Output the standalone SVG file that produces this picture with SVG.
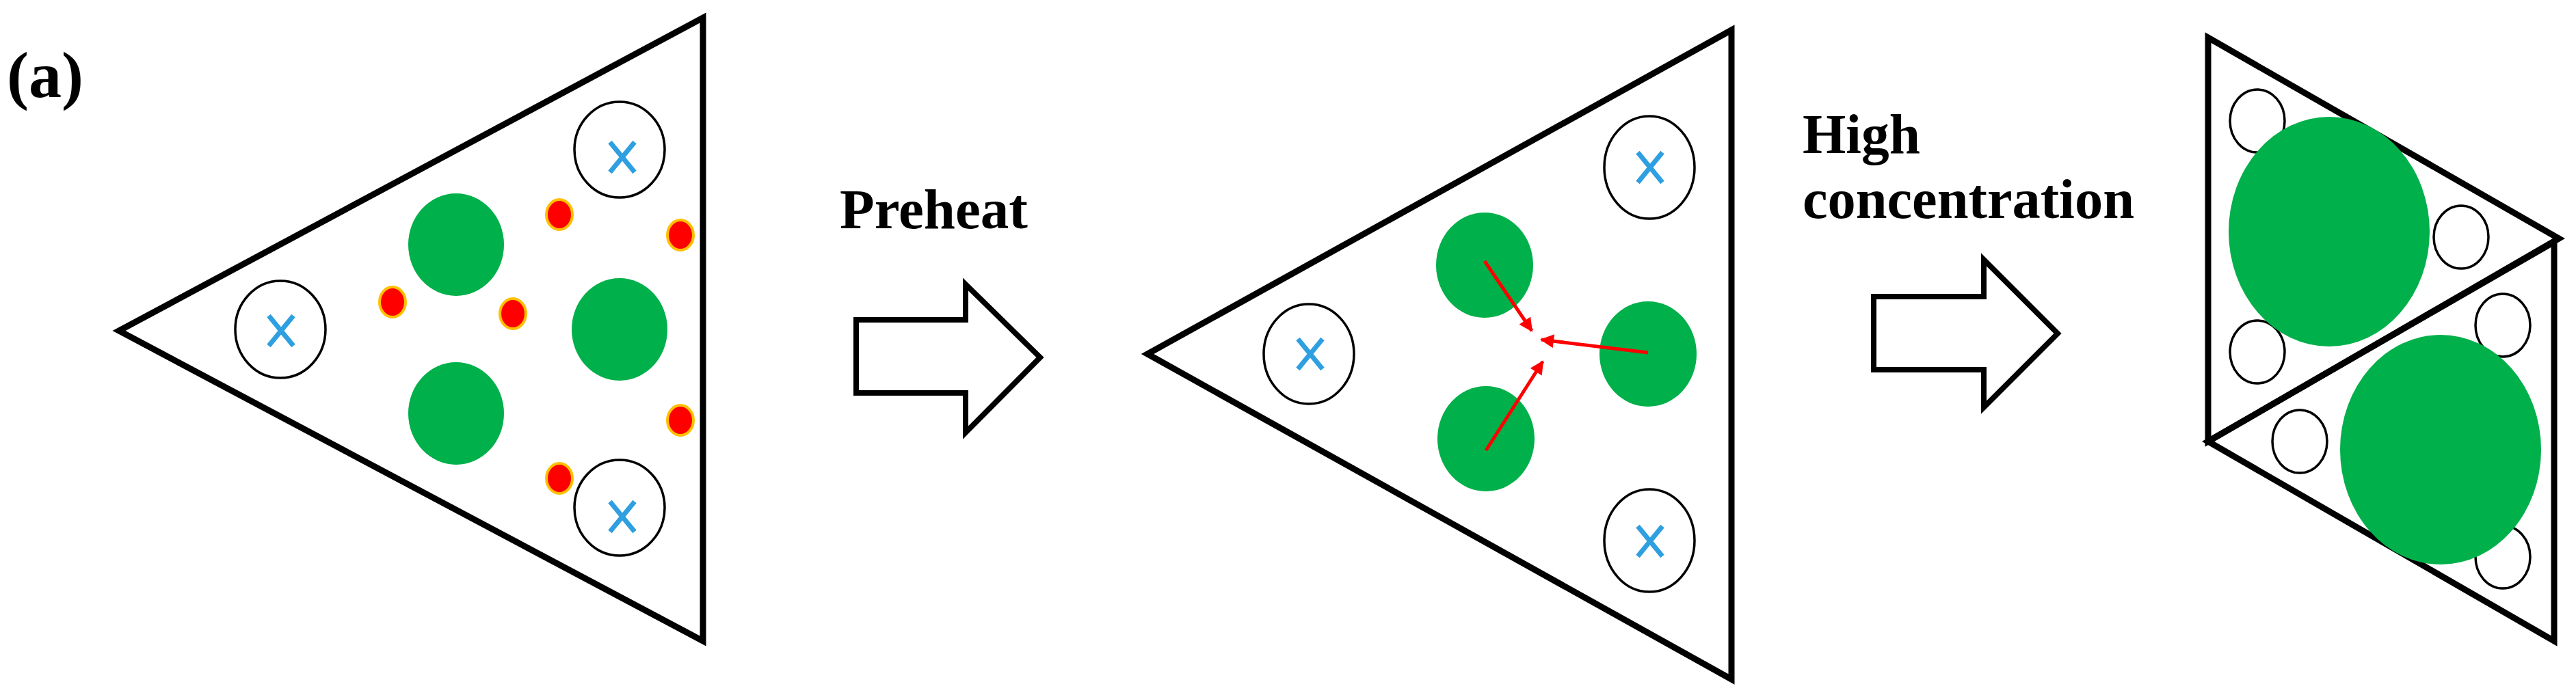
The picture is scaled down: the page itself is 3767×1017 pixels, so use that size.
<svg xmlns="http://www.w3.org/2000/svg" width="3767" height="1017" viewBox="0 0 3767 1017">
<defs>
<style>
.tri{fill:none;stroke:#000;stroke-width:9;stroke-linejoin:miter}
.ring{fill:#fff;stroke:#000;stroke-width:3.5}
.g{fill:#00b04a}
.red{fill:#ff0000;stroke:#ffc000;stroke-width:4}
.x{stroke:#2e9fe0;stroke-width:7;fill:none}
.blk{fill:#fff;stroke:#000;stroke-width:8}
.ra{stroke:#ff0000;stroke-width:5;fill:none;marker-end:url(#ah)}
text{font-family:"Liberation Serif","Times New Roman",serif;font-weight:bold;fill:#000}
</style>
<marker id="ah" viewBox="0 0 10 10" refX="9" refY="5" markerWidth="5" markerHeight="4" orient="auto" markerUnits="strokeWidth"><path d="M0,0L10,5L0,10z" fill="#ff0000"/></marker>
<g id="xm"><path class="x" d="M-18,-22L18,22M-18,22L18,-22"/></g>
</defs>
<rect width="3767" height="1017" fill="#fff"/>
<text x="10" y="142" font-size="96">(a)</text>
<g id="panel1">
<path class="tri" d="M174,484L1028,26L1028,938Z"/>
<ellipse class="ring" cx="906" cy="219" rx="66" ry="70"/><use href="#xm" x="910" y="230"/>
<ellipse class="ring" cx="410" cy="482" rx="66" ry="71"/><use href="#xm" x="411" y="484"/>
<ellipse class="ring" cx="906" cy="743" rx="66" ry="70"/><use href="#xm" x="910" y="756"/>
<ellipse class="g" cx="667" cy="358" rx="70" ry="75"/>
<ellipse class="g" cx="906" cy="482" rx="70" ry="75"/>
<ellipse class="g" cx="667" cy="605" rx="70" ry="75"/>
<ellipse class="red" cx="818" cy="314" rx="19" ry="22"/>
<ellipse class="red" cx="995" cy="344" rx="19" ry="22"/>
<ellipse class="red" cx="574" cy="442" rx="19" ry="22"/>
<ellipse class="red" cx="750" cy="459" rx="19" ry="22"/>
<ellipse class="red" cx="995" cy="615" rx="19" ry="22"/>
<ellipse class="red" cx="818" cy="700" rx="19" ry="22"/>
</g>
<g id="step1">
<text x="1228" y="334" font-size="82" textLength="275" lengthAdjust="spacingAndGlyphs">Preheat</text>
<path class="blk" d="M1252,468L1412,468L1412,416L1521,523L1412,633L1412,575L1252,575Z"/>
</g>
<g id="panel2">
<path class="tri" d="M1678,518L2532,44L2532,994Z"/>
<ellipse class="ring" cx="2412" cy="245" rx="66" ry="75"/><use href="#xm" x="2413" y="245"/>
<ellipse class="ring" cx="1914" cy="518" rx="66" ry="73"/><use href="#xm" x="1916" y="518"/>
<ellipse class="ring" cx="2412" cy="791" rx="66" ry="75"/><use href="#xm" x="2413" y="792"/>
<ellipse class="g" cx="2171" cy="388" rx="71" ry="77"/>
<ellipse class="g" cx="2410" cy="518" rx="71" ry="77"/>
<ellipse class="g" cx="2173" cy="642" rx="71" ry="77"/>
</g>
<g id="connectors">
<path class="ra" d="M2171,382L2240,484"/>
<path class="ra" d="M2410,516L2254,497"/>
<path class="ra" d="M2173,659L2256,529"/>
</g>
<g id="step2">
<text x="2636" y="224" font-size="82" textLength="172" lengthAdjust="spacingAndGlyphs">High</text>
<text x="2636" y="319" font-size="82" textLength="485" lengthAdjust="spacingAndGlyphs">concentration</text>
<path class="blk" d="M2740,434L2901,434L2901,380L3009,488L2901,596L2901,541L2740,541Z"/>
</g>
<g id="panel3">
<path class="tri" d="M3229,55L3742,349L3229,646Z"/>
<path class="tri" d="M3229,646L3735,354L3735,938Z"/>
<ellipse class="ring" cx="3301" cy="177" rx="40" ry="46"/>
<ellipse class="ring" cx="3599" cy="347" rx="40" ry="46"/>
<ellipse class="ring" cx="3301" cy="515" rx="40" ry="46"/>
<ellipse class="ring" cx="3660" cy="476" rx="40" ry="46"/>
<ellipse class="ring" cx="3363" cy="646" rx="40" ry="46"/>
<ellipse class="ring" cx="3660" cy="815" rx="40" ry="46"/>
<ellipse class="g" cx="3406" cy="339" rx="147" ry="168"/>
<ellipse class="g" cx="3569" cy="658" rx="147" ry="168"/>
</g>
</svg>
